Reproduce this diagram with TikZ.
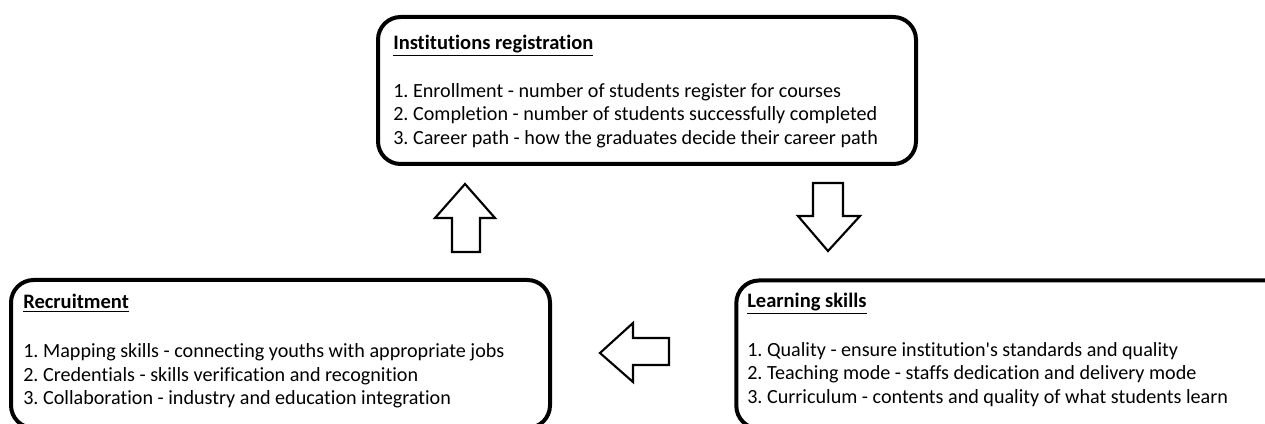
\documentclass[tikz,border=0pt]{standalone}
\usepackage{fontspec}
\setmainfont{Carlito}[Ligatures={TeXOff,NoCommon,NoDiscretionary}]
\frenchspacing
\begin{document}
\begin{tikzpicture}[x=0.75pt,y=-0.75pt,
  box/.style={draw=black, line width=3pt, rounded corners=17pt, fill=white, inner sep=0pt},
  ttl/.style={anchor=base west, inner sep=0pt, font=\fontsize{15.4pt}{18pt}\selectfont\bfseries},
  txt/.style={anchor=base west, inner sep=0pt, font=\fontsize{15.1pt}{18pt}\selectfont},
  blockarrow/.style={draw=black, line width=1.6pt, line join=miter, fill=white}]
\useasboundingbox (0,0) rectangle (1265,424);
% boxes
\node[box, minimum width=403.5pt, minimum height=110.25pt] (top) at (647,90.5) {};
\node[box, minimum width=404.25pt, minimum height=111pt] (left) at (280.5,354) {};
\node[box, minimum width=415pt, minimum height=111pt] (right) at (1013,354.5) {};
% top box text
\node[ttl] (t0) at (393,50) {\underline{Institutions registration}};
\node[txt] (t1) at (393,97.5) {1. Enrollment - number of students register for courses};
\node[txt] (t2) at (393,121) {2. Completion - number of students successfully completed};
\node[txt] (t3) at (393,144.5) {3. Career path - how the graduates decide their career path};
% left box text
\node[ttl] (l0) at (23,309) {\underline{Recruitment}};
\node[txt] (l1) at (23,357.5) {1. Mapping skills - connecting youths with appropriate jobs};
\node[txt] (l2) at (23,381) {2. Credentials - skills verification and recognition};
\node[txt] (l3) at (23,404.5) {3. Collaboration - industry and education integration};
% right box text
\node[ttl] (r0) at (747,307.5) {\underline{Learning skills}};
\node[txt] (r1) at (747,356) {1. Quality - ensure institution's standards and quality};
\node[txt] (r2) at (747,379.5) {2. Teaching mode - staffs dedication and delivery mode};
\node[txt] (r3) at (747,403) {3. Curriculum - contents and quality of what students learn};
% block arrows
\draw[blockarrow] (465,184) -- (495,218) -- (480,218) -- (480,252) -- (452,252) -- (452,218) -- (435,218) -- cycle;
\draw[blockarrow] (828,251) -- (860,216) -- (843,216) -- (843,183) -- (813,183) -- (813,216) -- (798,216) -- cycle;
\draw[blockarrow] (600,353) -- (633,323) -- (633,338) -- (669,338) -- (669,365) -- (633,365) -- (633,382) -- cycle;
\end{tikzpicture}
\end{document}
